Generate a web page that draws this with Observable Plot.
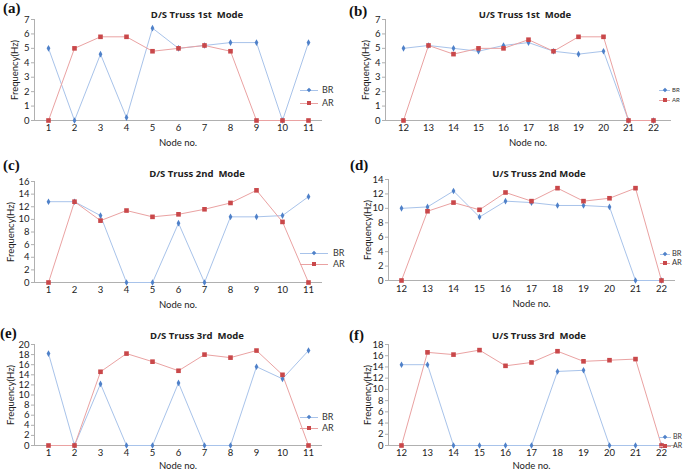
<!DOCTYPE html>
<html>
<head>
<meta charset="utf-8">
<script src="https://cdn.jsdelivr.net/npm/d3@7"></script>
<script src="https://cdn.jsdelivr.net/npm/@observablehq/plot@0.6"></script>
<style>
  html, body { margin: 0; padding: 0; background: #fff; }
  #wrap { position: relative; width: 685px; height: 470px; overflow: hidden; font-family: Lato, "Open Sans", sans-serif; }
  .pnl { position: absolute; }
  .tag { position: absolute; line-height: 1; font-family: "Liberation Serif", "DejaVu Serif", serif; font-weight: bold; font-size: 15px; color: #111; }
  .ttl { position: absolute; line-height: 1; transform: translateX(-50%); white-space: pre; font-family: "Open Sans", sans-serif; font-weight: bold; font-size: 9.5px; color: #222; }
  .leg { position: absolute; color: #333; }
  .leg div { position: relative; white-space: nowrap; }
  .leg .ln { display: inline-block; height: 1px; vertical-align: middle; position: relative; }
  .leg .mk { position: absolute; top: -2px; width: 4px; height: 4px; }
</style>
</head>
<body>
<div id="wrap"></div>
<script>
// ---- data ----
const nodesDS = [1, 2, 3, 4, 5, 6, 7, 8, 9, 10, 11];
const nodesUS = [12, 13, 14, 15, 16, 17, 18, 19, 20, 21, 22];

const brA = [5, 0, 4.6, 0.2, 6.4, 5, 5.2, 5.4, 5.4, 0, 5.4];
const arA = [0, 5, 5.8, 5.8, 4.8, 5, 5.2, 4.8, 0, 0, 0];

const brB = [5, 5.2, 5, 4.8, 5.2, 5.4, 4.8, 4.6, 4.8, 0, 0];
const arB = [0, 5.2, 4.6, 5, 5, 5.6, 4.8, 5.8, 5.8, 0, 0];

const brC = [12.8, 12.8, 10.6, 0, 0, 9.4, 0, 10.4, 10.4, 10.6, 13.6];
const arC = [0, 12.8, 9.8, 11.4, 10.4, 10.8, 11.6, 12.6, 14.6, 9.6, 0];

const brD = [10, 10.2, 12.4, 8.8, 11, 10.8, 10.4, 10.4, 10.2, 0, 0];
const arD = [0, 9.6, 10.8, 9.8, 12.2, 11, 12.8, 11, 11.4, 12.8, 0];

const brE = [18.2, 0, 12.2, 0, 0, 12.4, 0, 0, 15.6, 13.2, 18.8];
const arE = [0, 0, 14.6, 18.2, 16.6, 14.8, 18, 17.4, 18.8, 14, 0];

const brF = [14.4, 14.4, 0, 0, 0, 0, 13.2, 13.4, 0, 0, 0];
const arF = [0, 16.6, 16.2, 17, 14.2, 14.8, 16.8, 15, 15.2, 15.4, 0];

const ticks7 = [0, 1, 2, 3, 4, 5, 6, 7];
const ticks14 = [0, 2, 4, 6, 8, 10, 12, 14];
const ticks16 = [0, 2, 4, 6, 8, 10, 12, 14, 16];
const ticks18 = [0, 2, 4, 6, 8, 10, 12, 14, 16, 18];
const ticks20 = [0, 2, 4, 6, 8, 10, 12, 14, 16, 18, 20];

const titles = ["D/S Truss 1st  Mode", "U/S Truss 1st  Mode", "D/S Truss 2nd  Mode", "U/S Truss 2nd Mode", "D/S Truss 3rd  Mode", "U/S Truss 3rd  Mode"];
const tags = ["(a)", "(b)", "(c)", "(d)", "(e)", "(f)"];
const seriesNames = ["BR", "AR"];
const yLabel = "Frequency(Hz)";
const xLabel = "Node no.";

const BR_LINE = "#a8c3ea", BR_MK = "#4f81c9";
const AR_LINE = "#eaa2a2", AR_MK = "#c9484a";

const wrap = document.getElementById("wrap");

function panel(cfg) {
  const rows = (vals) => cfg.nodes.map((n, i) => ({ node: n, v: vals[i] }));
  const br = rows(cfg.br), ar = rows(cfg.ar);
  const yMax = cfg.ticks[cfg.ticks.length - 1];
  const p = Plot.plot({
    width: cfg.w, height: cfg.h,
    marginLeft: cfg.ml, marginRight: cfg.mr, marginTop: cfg.mt, marginBottom: cfg.mb,
    style: { fontFamily: "Lato, 'Open Sans', sans-serif", fontSize: "9.5px", color: "#222", background: "transparent", overflow: "visible" },
    x: { type: "point", domain: cfg.nodes, padding: 0.5 },
    y: { domain: [0, yMax] },
    marks: [
      Plot.frame({ anchor: "left", stroke: "#b0b0b0" }),
      Plot.frame({ anchor: "bottom", stroke: "#b0b0b0" }),
      Plot.axisY({ ticks: cfg.ticks, tickFormat: (d) => String(d), tickSize: 3, stroke: "#b0b0b0", tickPadding: 2, label: yLabel, labelArrow: false, labelAnchor: "center", labelOffset: cfg.ylo, fontSize: "9.5px" }),
      Plot.axisX({ tickSize: 0, tickPadding: cfg.xtp, tickFormat: (d) => String(d), label: xLabel, labelArrow: false, labelAnchor: "center", labelOffset: cfg.xlo, fontSize: "9.5px" }),
      Plot.line(br, { x: "node", y: "v", stroke: BR_LINE, strokeWidth: 1 }),
      Plot.line(ar, { x: "node", y: "v", stroke: AR_LINE, strokeWidth: 1 }),
      Plot.dot(br, { x: "node", y: "v", symbol: "diamond", r: 2, fill: BR_MK, stroke: "none" }),
      Plot.dot(ar, { x: "node", y: "v", symbol: "square", r: 2.6, fill: AR_MK, stroke: "none" })
    ]
  });
  const d = document.createElement("div");
  d.className = "pnl";
  d.style.left = cfg.x + "px"; d.style.top = cfg.y + "px";
  d.appendChild(p);
  wrap.appendChild(d);

  const tg = document.createElement("div");
  tg.className = "tag"; tg.textContent = cfg.tag;
  tg.style.left = cfg.tagX + "px"; tg.style.top = cfg.tagY + "px";
  wrap.appendChild(tg);

  const tt = document.createElement("div");
  tt.className = "ttl"; tt.textContent = cfg.title;
  tt.style.left = cfg.titleX + "px"; tt.style.top = cfg.titleY + "px";
  wrap.appendChild(tt);

  const lg = document.createElement("div");
  lg.className = "leg";
  lg.style.left = cfg.legX + "px"; lg.style.top = cfg.legY + "px";
  lg.style.fontSize = cfg.legFs + "px";
  lg.style.lineHeight = cfg.legLh + "px";
  [[BR_LINE, BR_MK], [AR_LINE, AR_MK]].forEach(([lc, mc], i) => {
    const row = document.createElement("div");
    row.style.height = cfg.legLh + "px";
    row.style.marginBottom = cfg.legGap + "px";
    const ln = document.createElement("span");
    ln.className = "ln"; ln.style.background = lc;
    ln.style.width = cfg.legW + "px"; ln.style.marginRight = cfg.legSp + "px";
    const mk = document.createElement("span");
    mk.className = "mk"; mk.style.background = mc;
    mk.style.left = (cfg.legW / 2 - 2) + "px";
    if (i === 0) { mk.style.transform = "rotate(45deg) scale(0.8)"; }
    ln.appendChild(mk);
    row.appendChild(ln);
    row.appendChild(document.createTextNode(seriesNames[i]));
    lg.appendChild(row);
  });
  wrap.appendChild(lg);
}

panel({ nodes: nodesDS, br: brA, ar: arA, ticks: ticks7, tag: tags[0], title: titles[0],
  x: 0, y: 0, w: 342, h: 150, ml: 34, mr: 21, mt: 19, mb: 30, ylo: 23, xtp: 4, xlo: 25,
  tagX: 3, tagY: 1, titleX: 197, titleY: 10, legX: 300, legY: 85, legGap: 3, legFs: 9, legLh: 10, legW: 18, legSp: 4 });

panel({ nodes: nodesUS, br: brB, ar: arB, ticks: ticks7, tag: tags[1], title: titles[1],
  x: 342, y: 0, w: 343, h: 150, ml: 43, mr: 15, mt: 19, mb: 30, ylo: 23, xtp: 4, xlo: 25,
  tagX: 349, tagY: 4, titleX: 525, titleY: 10, legX: 659, legY: 86, legGap: 2, legFs: 6, legLh: 8, legW: 11, legSp: 2 });

panel({ nodes: nodesDS, br: brC, ar: arC, ticks: ticks16, tag: tags[2], title: titles[2],
  x: 0, y: 150, w: 342, h: 160, ml: 34, mr: 21, mt: 31, mb: 28, ylo: 27, xtp: 4, xlo: 25,
  tagX: 3, tagY: 158, titleX: 197, titleY: 169, legX: 300, legY: 248, legGap: 1, legFs: 9, legLh: 10, legW: 28, legSp: 5 });

panel({ nodes: nodesUS, br: brD, ar: arD, ticks: ticks14, tag: tags[3], title: titles[3],
  x: 342, y: 150, w: 343, h: 160, ml: 46, mr: 11, mt: 29, mb: 30, ylo: 24, xtp: 5, xlo: 26,
  tagX: 350, tagY: 158, titleX: 539, titleY: 169, legX: 660, legY: 249, legGap: 0, legFs: 7.5, legLh: 9, legW: 10, legSp: 2 });

panel({ nodes: nodesDS, br: brE, ar: arE, ticks: ticks20, tag: tags[4], title: titles[4],
  x: 0, y: 310, w: 342, h: 160, ml: 34, mr: 21, mt: 34, mb: 25, ylo: 27, xtp: 4, xlo: 23,
  tagX: 0, tagY: 326, titleX: 197, titleY: 331, legX: 300, legY: 412, legGap: 1, legFs: 9, legLh: 10, legW: 18, legSp: 4 });

panel({ nodes: nodesUS, br: brF, ar: arF, ticks: ticks18, tag: tags[5], title: titles[5],
  x: 342, y: 310, w: 343, h: 160, ml: 46, mr: 11, mt: 34, mb: 25, ylo: 24, xtp: 4, xlo: 23,
  tagX: 349, tagY: 328, titleX: 539, titleY: 331, legX: 659, legY: 432, legGap: 0, legFs: 7, legLh: 9, legW: 12, legSp: 2 });
</script>
</body>
</html>
